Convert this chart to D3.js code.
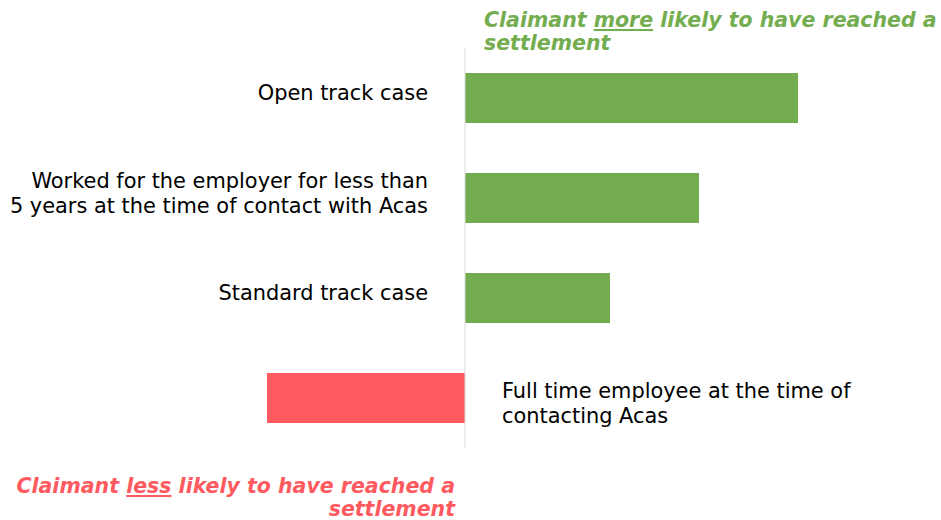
<!DOCTYPE html>
<html>
<head>
<meta charset="utf-8">
<script src="https://cdn.jsdelivr.net/npm/d3@7"></script>
<style>
  body { margin: 0; background: #fff; }
  svg { display: block; font-family: "DejaVu Sans", Verdana, sans-serif; }
</style>
</head>
<body>
<svg width="941" height="520"></svg>
<script>
// категории (строки подписи) и значения (отн. величина эффекта)
const categories = [
  ["Open track case"],
  ["Worked for the employer for less than", "5 years at the time of contact with Acas"],
  ["Standard track case"],
  ["Full time employee at the time of", "contacting Acas"]
];
const values = [3.33, 2.34, 1.45, -1.98];

const colorPos = "#74ad4f";
const colorNeg = "#ff5a5f";
const labelSize = "20.9px";
const titleSize = "20.5px";

let svg = d3.select("svg");

// шкалы
let scaleX = d3.scaleLinear()
  .domain([-2, 4.76])
  .range([265, 941]);

let scaleY = d3.scaleBand()
  .domain(d3.range(categories.length))
  .range([48, 448])
  .paddingInner(0.5)
  .paddingOuter(0.25);

// столбики
svg.selectAll("rect.bar")
  .data(values)
  .join("rect")
  .attr("class", "bar")
  .attr("x", d => scaleX(Math.min(0, d)))
  .attr("y", (d, i) => scaleY(i))
  .attr("width", d => Math.abs(scaleX(d) - scaleX(0)))
  .attr("height", scaleY.bandwidth())
  .style("fill", d => d >= 0 ? colorPos : colorNeg);

// нулевая линия
svg.append("line")
  .attr("x1", scaleX(0)).attr("x2", scaleX(0))
  .attr("y1", 48).attr("y2", 448)
  .style("stroke", "#d9d9d9")
  .style("stroke-width", 1);

// подписи категорий
const lineH = 25;
categories.forEach((lines, i) => {
  const pos = values[i] >= 0;
  const cy = scaleY(i) + scaleY.bandwidth() / 2 + (pos ? -5 : 5);
  const t = svg.append("text")
    .attr("x", pos ? 428 : 502)
    .attr("text-anchor", pos ? "end" : "start")
    .style("font-size", labelSize)
    .style("fill", "#000");
  lines.forEach((ln, j) => {
    t.append("tspan")
      .attr("x", pos ? 428 : 502)
      .attr("y", cy + (j - (lines.length - 1) / 2) * lineH)
      .attr("dy", "0.35em")
      .text(ln);
  });
});

// заголовки
function heading(x, y, anchor, color, word, rest1, rest2) {
  const t = svg.append("text")
    .attr("x", x).attr("y", y)
    .attr("text-anchor", anchor)
    .style("font-size", titleSize)
    .style("font-weight", "bold")
    .style("font-style", "italic")
    .style("fill", color);
  t.append("tspan").text("Claimant ");
  t.append("tspan").style("text-decoration", "underline").text(word);
  t.append("tspan").text(rest1);
  svg.append("text")
    .attr("x", x).attr("y", y + 23)
    .attr("text-anchor", anchor)
    .style("font-size", titleSize)
    .style("font-weight", "bold")
    .style("font-style", "italic")
    .style("fill", color)
    .text(rest2);
}
heading(484, 27, "start", colorPos, "more", " likely  to have reached a", "settlement");
heading(455, 493, "end", colorNeg, "less", " likely  to have reached a", "settlement");
</script>
</body>
</html>
